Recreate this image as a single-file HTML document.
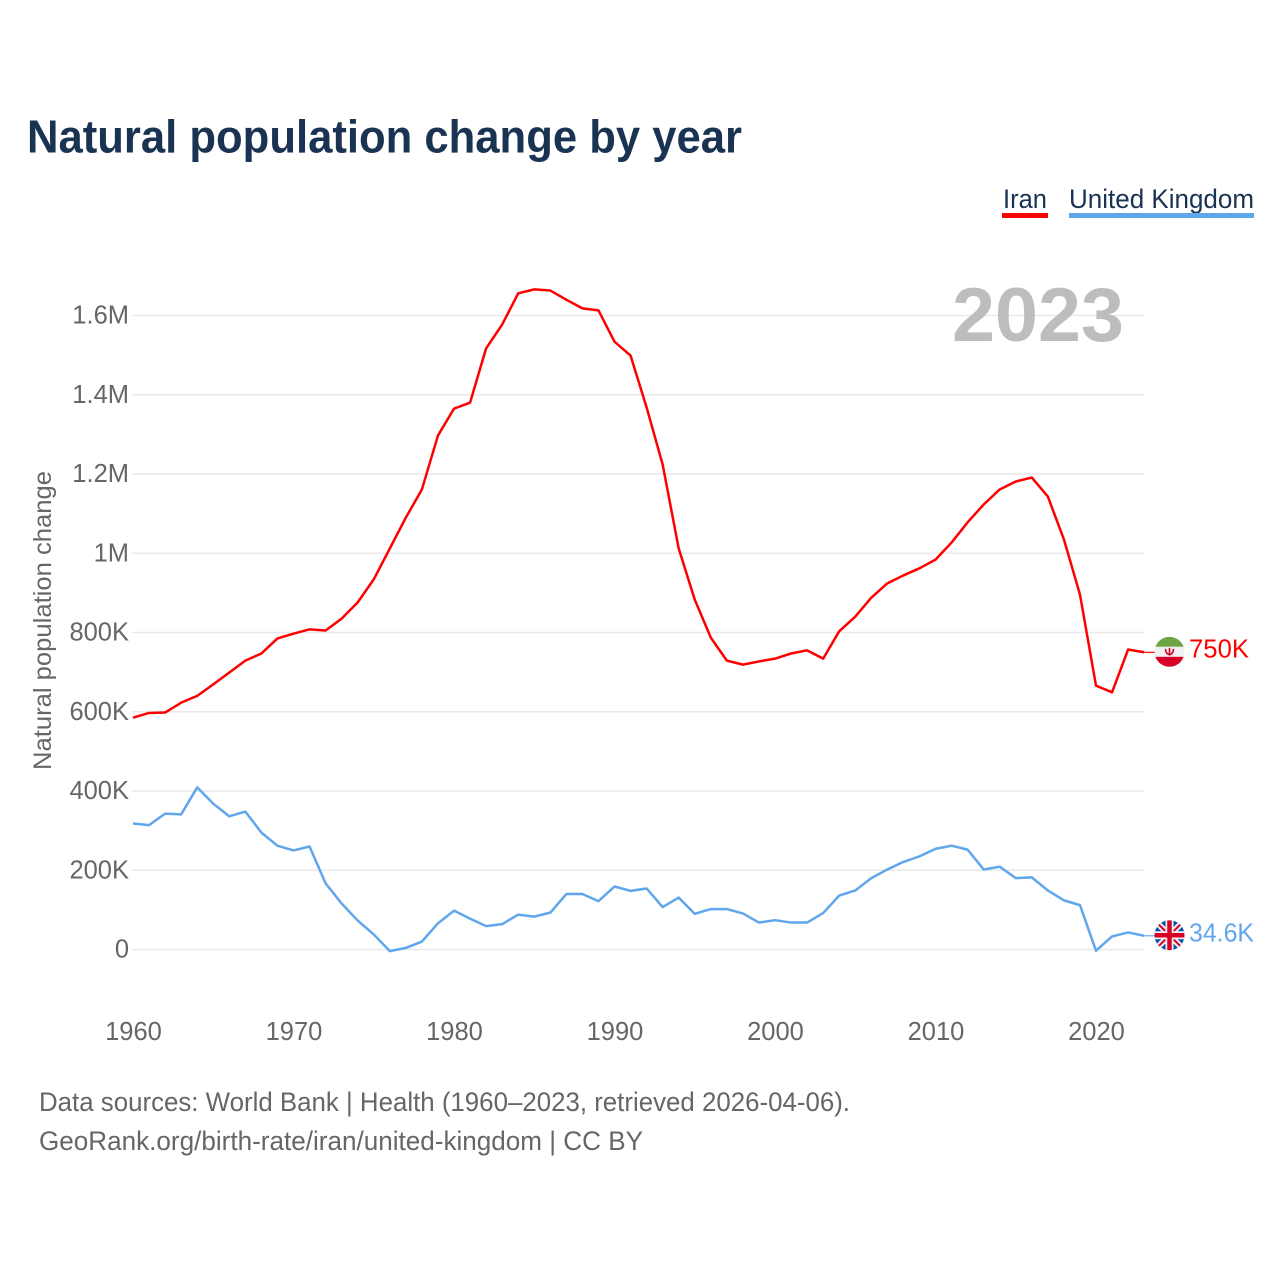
<!DOCTYPE html>
<html lang="en">
<head>
<meta charset="utf-8">
<title>Natural population change by year</title>
<style>
html,body{margin:0;padding:0;background:#fff;}
svg{display:block;font-family:"Liberation Sans",sans-serif;}
</style>
</head>
<body>
<svg id="chart" xmlns="http://www.w3.org/2000/svg" width="1280" height="1280" viewBox="0 0 1280 1280">
  <defs>
    <clipPath id="flag-clip"><circle cx="0" cy="0" r="15"></circle></clipPath>
  </defs>
  <rect x="0" y="0" width="1280" height="1280" fill="#fff"></rect>
  <text x="27" y="152.500" font-size="46" font-weight="700" fill="#1a3353" textLength="715" lengthAdjust="spacingAndGlyphs">Natural population change by year</text>

  <g>
    <g>
      <text x="1003" y="208" font-size="27" fill="#1a3353" textLength="44" lengthAdjust="spacingAndGlyphs">Iran</text>
      <rect x="1002" y="213" width="46" height="5" fill="#ff0000"></rect>
    </g>
    <g>
      <text x="1069" y="208" font-size="27" fill="#1a3353" textLength="185" lengthAdjust="spacingAndGlyphs">United Kingdom</text>
      <rect x="1069" y="213" width="185" height="5" fill="#5fa6ec"></rect>
    </g>
  </g>

  <g id="grid"></g>
  <g id="y-ticks"></g>
  <g id="x-ticks"></g>

  <text transform="translate(51,770) rotate(-90)" font-size="25" fill="#666" textLength="299" lengthAdjust="spacingAndGlyphs">Natural population change</text>
  <text x="952" y="341" font-size="76" font-weight="700" fill="#bdbdbd" textLength="172" lengthAdjust="spacingAndGlyphs">2023</text>

  <g id="series"></g>

  <g id="flag-iran">
    <g clip-path="url(#flag-clip)">
      <rect x="-15" y="-15" width="30" height="10" fill="#6da544"></rect>
      <rect x="-15" y="-5" width="30" height="10" fill="#f0f0f0"></rect>
      <rect x="-15" y="5" width="30" height="10" fill="#d80027"></rect>
      <path d="M-4,-3 C-4,2 -1,2.500 0,3 C1,2.500 4,2 4,-3 M0,-4 V3" fill="none" stroke="#d80027" stroke-width="1.600"></path>
    </g>
  </g>
  <g id="flag-uk">
    <g clip-path="url(#flag-clip)">
      <rect x="-15" y="-15" width="30" height="30" fill="#0052b4"></rect>
      <path d="M-15,-15 L15,15 M15,-15 L-15,15" stroke="#f0f0f0" stroke-width="6"></path>
      <path d="M-15,-15 L15,15 M15,-15 L-15,15" stroke="#d80027" stroke-width="2"></path>
      <path d="M0,-15 V15 M-15,0 H15" stroke="#f0f0f0" stroke-width="8"></path>
      <path d="M0,-15 V15 M-15,0 H15" stroke="#d80027" stroke-width="4.500"></path>
    </g>
  </g>

  <g>
    <text x="39" y="1111" font-size="27" fill="#666" textLength="811" lengthAdjust="spacingAndGlyphs">Data sources: World Bank | Health (1960–2023, retrieved 2026-04-06).</text>
    <text x="39" y="1150" font-size="27" fill="#666" textLength="604" lengthAdjust="spacingAndGlyphs">GeoRank.org/birth-rate/iran/united-kingdom | CC BY</text>
  </g>
</svg>
<script>
const years = [1960,1961,1962,1963,1964,1965,1966,1967,1968,1969,1970,1971,1972,1973,1974,1975,1976,1977,1978,1979,1980,1981,1982,1983,1984,1985,1986,1987,1988,1989,1990,1991,1992,1993,1994,1995,1996,1997,1998,1999,2000,2001,2002,2003,2004,2005,2006,2007,2008,2009,2010,2011,2012,2013,2014,2015,2016,2017,2018,2019,2020,2021,2022,2023];
const iranValues = [585,597,598,623,640,669,699,729,747,785,797,808,805,835,876,934,1012,1090,1161,1297,1365,1380,1517,1577,1656,1666,1663,1640,1618,1613,1534,1499,1368,1224,1012,883,787,729,719,727,734,747,755,734,803,840,888,924,944,962,984,1027,1078,1123,1161,1181,1191,1143,1035,896,666,649,757,750];
const ukValues = [318,314,343,341,409,368,336,348,295,262,250,260,167,116,73,38,-4,4,20,66,98,78,59,64,88,83,93,140,140,122,159,148,154,107,131,90,102,102,91,68,74,68,68,92,136,149,180,202,221,235,254,262,252,202,209,180,182,149,124,112,-3,33,43,34.6];
const yTickValues = [0,200,400,600,800,1000,1200,1400,1600];
const yTickLabels = ["0","200K","400K","600K","800K","1M","1.2M","1.4M","1.6M"];
const xTickValues = [1960,1970,1980,1990,2000,2010,2020];
const xTickLabels = ["1960","1970","1980","1990","2000","2010","2020"];
const iranEndLabel = "750K";
const ukEndLabel = "34.6K";

const NS = 'http://www.w3.org/2000/svg';
function xScale(year){ return 133 + (year - 1960) * 16.05; }
function yScale(v){ return 949.5 - v * 0.39625; }
function make(tag, parent, attrs, text){
  const el = document.createElementNS(NS, tag);
  Object.keys(attrs).forEach(function(k){ el.setAttribute(k, attrs[k]); });
  if (text !== undefined) el.textContent = text;
  parent.appendChild(el);
  return el;
}
const gridGroup = document.getElementById('grid');
const yGroup = document.getElementById('y-ticks');
const xGroup = document.getElementById('x-ticks');
const seriesGroup = document.getElementById('series');
const svgRoot = document.getElementById('chart');

yTickValues.forEach(function(v, i){
  const line = make('line', gridGroup, {x1:132, x2:1144, y1:yScale(v), y2:yScale(v), stroke:'#e9e9e9', 'stroke-width':1.5});
  
  
  const label = make('text', yGroup, {x:129, y:yScale(v)+8, 'text-anchor':'end', 'font-size':25.5, fill:'#666'}, yTickLabels[i]);
  
  
});
xTickValues.forEach(function(v, i){
  const label = make('text', xGroup, {x:xScale(v)+0.5, y:1040, 'text-anchor':'middle', 'font-size':25.5, fill:'#666'}, xTickLabels[i]);
  
  
});
function pathFor(values){
  return values.map(function(v, i){
    return (i ? 'L' : 'M') + xScale(years[i]).toFixed(2) + ',' + yScale(v).toFixed(2);
  }).join(' ');
}
const iranLine = make('path', seriesGroup, {d:pathFor(iranValues), fill:'none', stroke:'#ff0000', 'stroke-width':2.5, 'stroke-linejoin':'round'});


const ukLine = make('path', seriesGroup, {d:pathFor(ukValues), fill:'none', stroke:'#5fa6ec', 'stroke-width':2.5, 'stroke-linejoin':'round'});



const iranEndY = yScale(iranValues[iranValues.length - 1]);
const ukEndY = yScale(ukValues[ukValues.length - 1]);
const endX = xScale(years[years.length - 1]);

const iranLeader = make('line', seriesGroup, {x1:endX, x2:1155, y1:iranEndY, y2:iranEndY, stroke:'#ff0000', 'stroke-width':1.2});


const ukLeader = make('line', seriesGroup, {x1:endX, x2:1155, y1:ukEndY, y2:ukEndY, stroke:'#5fa6ec', 'stroke-width':1.2});



document.getElementById('flag-iran').setAttribute('transform', 'translate(1169.5,' + (iranEndY - 0.5) + ')');
document.getElementById('flag-uk').setAttribute('transform', 'translate(1169.5,' + (ukEndY - 0.5) + ')');

const iranLabel = make('text', svgRoot, {x:1189, y:iranEndY+5, 'font-size':25.5, fill:'#ff0000', textLength:60, lengthAdjust:'spacingAndGlyphs'}, iranEndLabel);


const ukLabel = make('text', svgRoot, {x:1189, y:ukEndY+5.5, 'font-size':25.5, fill:'#5fa6ec', textLength:65, lengthAdjust:'spacingAndGlyphs'}, ukEndLabel);


</script>
</body>
</html>
